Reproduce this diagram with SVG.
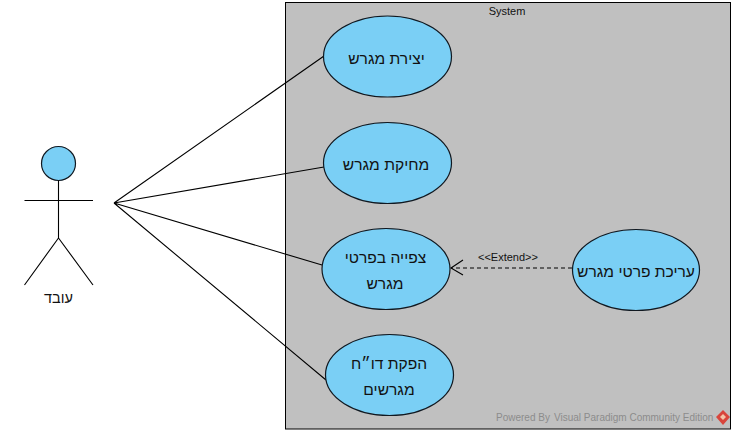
<svg xmlns="http://www.w3.org/2000/svg" width="735" height="434" viewBox="0 0 735 434">
<style>
.uc{fill:#7acff5;stroke:#101820;stroke-width:1.2}
.ln{fill:none;stroke:#000;stroke-width:1.1}
text{font-family:"Liberation Sans",Arial,sans-serif;fill:#111}
.h{font-size:15.600px;text-anchor:middle;direction:rtl}
.s{font-size:11px;text-anchor:middle}
.w{font-size:10px;fill:#8c8c8c}
</style>
<rect width="735" height="434" fill="#fff"/>
<g id="system">
<rect x="285.500" y="2.500" width="445" height="426.500" fill="#c0c0c0" stroke="#000" stroke-width="1"/>
<text class="s" x="507" y="15">System</text>
</g>
<g id="connectors">
<path class="ln" d="M114 203L324 56M114 203L324 167M114 203L322 265M114 203L326 380"/>
<path class="ln" stroke-dasharray="4 3" d="M572 268H451"/>
<path class="ln" d="M463 260L451 268L463 275"/>
<text class="s" x="508" y="261">&lt;&lt;Extend&gt;&gt;</text>
</g>
<g id="actor">
<circle class="uc" cx="58.500" cy="163.500" r="17"/>
<path class="ln" d="M58.500 180.500V238M24.500 200.500H93M58.500 238L24.500 285M58.500 238L93 285"/>
<text class="h" x="58.500" y="303" style="font-size:14.500px">עובד</text>
</g>
<g id="uc1"><ellipse class="uc" cx="387.500" cy="56.500" rx="64" ry="40.500"/><text class="h" x="386.500" y="64">יצירת מגרש</text></g>
<g id="uc2"><ellipse class="uc" cx="387.500" cy="163" rx="64" ry="40.500"/><text class="h" x="386" y="170">מחיקת מגרש</text></g>
<g id="uc3"><ellipse class="uc" cx="386" cy="269" rx="64" ry="40.500"/><text class="h" x="385.500" y="263">צפייה בפרטי</text><text class="h" x="385" y="289">מגרש</text></g>
<g id="uc4"><ellipse class="uc" cx="389.500" cy="375" rx="64" ry="40.500"/><text class="h" x="389" y="369">הפקת דו״ח</text><text class="h" x="389" y="395">מגרשים</text></g>
<g id="uc5"><ellipse class="uc" cx="636" cy="270" rx="63.500" ry="40.500"/><text class="h" x="636" y="277">עריכת פרטי מגרש</text></g>
<g id="watermark">
<text class="w" x="496" y="421">Powered By</text>
<text class="w" x="554" y="421">Visual Paradigm Community Edition</text>
<path d="M723 410L730 417L723 425L716 417Z" fill="#d8453c"/>
<path d="M723 414L726 417L723 420L720 417Z" fill="#f4c4a8"/>
</g>
</svg>
